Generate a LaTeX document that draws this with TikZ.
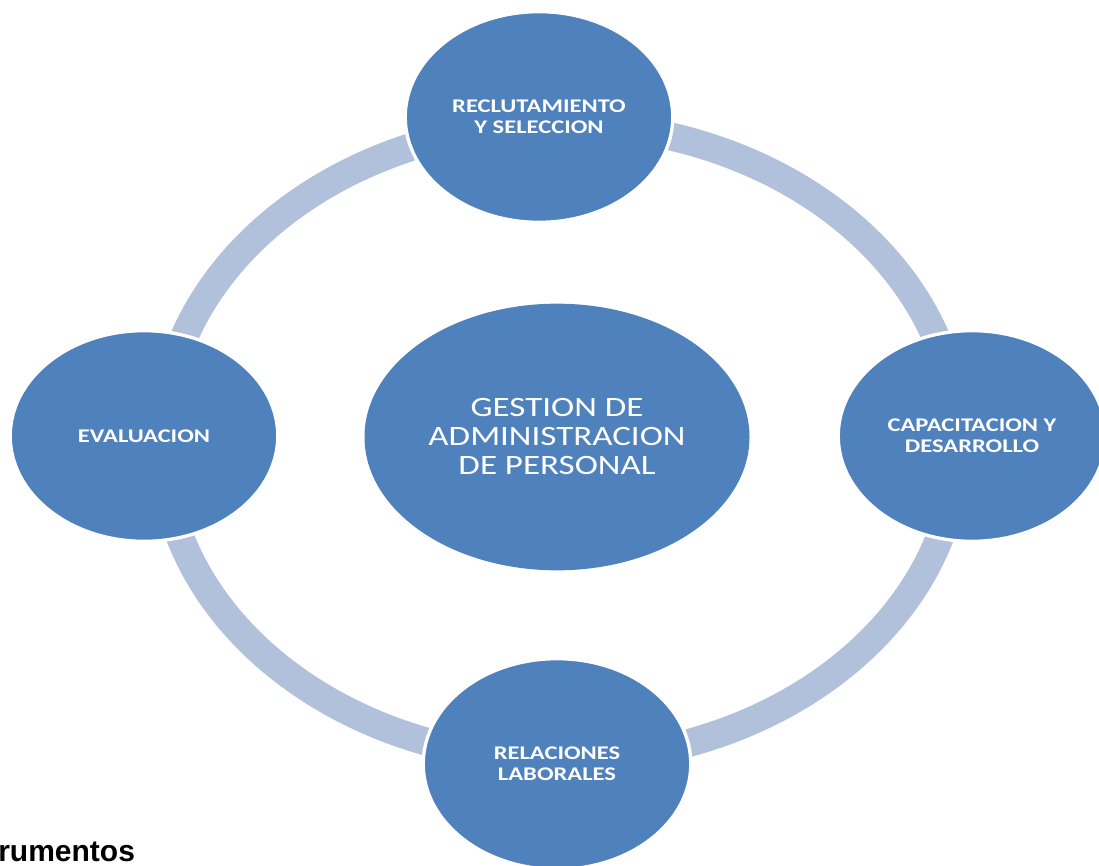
\documentclass[tikz,border=0pt]{standalone}
\usepackage{fontspec}
\setmainfont{Carlito}
\newfontfamily\capfont{Liberation Sans}
\usetikzlibrary{shapes.geometric}
\usetikzlibrary{positioning}
\definecolor{accent}{HTML}{4F81BD}
\definecolor{ringblue}{HTML}{B1C1DC}

\begin{document}
\begin{tikzpicture}
    [
    x=0.75pt, y=-0.75pt,
    stage/.style={circle,fill=accent,draw=white,line width=2.5pt,inner sep=0pt,minimum size=158pt,xscale=1.27,text=white,align=center,font=\bfseries\fontsize{14.5}{15.75}\selectfont},
    hub/.style={ellipse,fill=accent,inner sep=0pt,minimum width=231pt,minimum height=200pt,xscale=1.25,text=white,align=center,font=\fontsize{21}{21.75}\selectfont},
    ring/.style={draw=ringblue,line width=21pt},
    ]
    \useasboundingbox (0,0) rectangle (1099,866);

    \coordinate (ringc) at (560,442);
    \draw [ring] (ringc) ellipse [x radius=398, y radius=318];

    \node (gestion) at (557,437) [hub] {GESTION DE\\ADMINISTRACION\\DE PERSONAL};
    \node (reclut) at (539,117) [stage] {RECLUTAMIENTO\\Y SELECCION};
    \node (capac) at (972,436) [stage] {CAPACITACION Y\\DESARROLLO};
    \node (relac) at (557,764) [stage] {RELACIONES\\LABORALES};
    \node (evalu) at (144,436) [stage] {EVALUACION};

    \node (caption) at (-2,861) [anchor=base west,inner sep=0pt,font=\capfont\bfseries\fontsize{22.5}{26}\selectfont] {rumentos};
  \end{tikzpicture}
\end{document}
